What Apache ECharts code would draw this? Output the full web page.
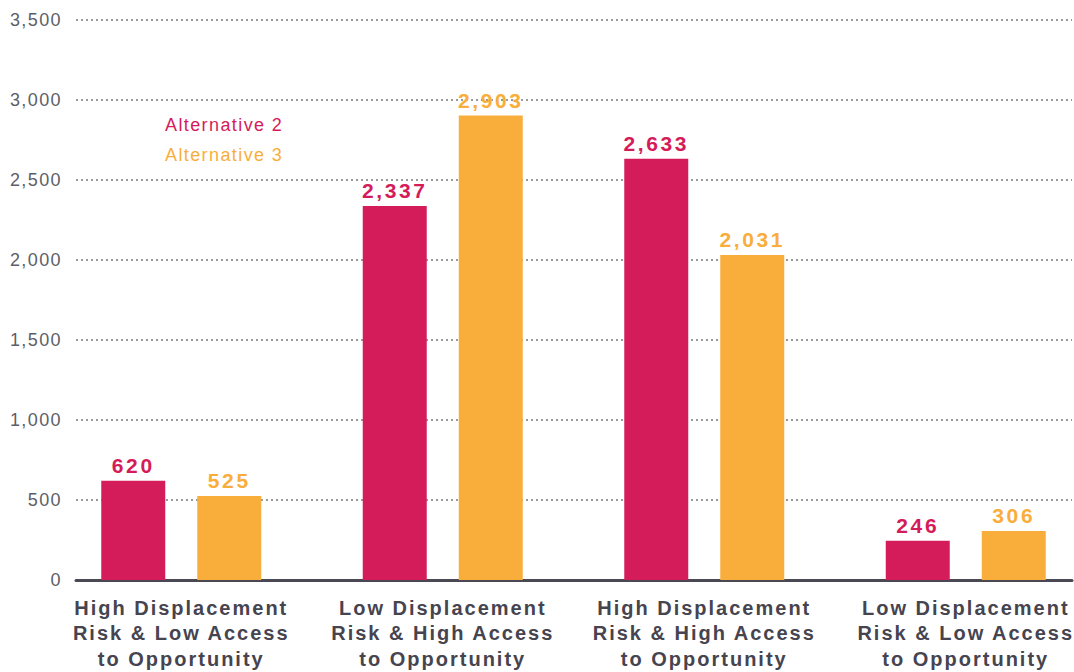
<!DOCTYPE html>
<html><head><meta charset="utf-8">
<script src="https://cdn.jsdelivr.net/npm/echarts@6/dist/echarts.min.js"></script>
<style>html,body{margin:0;padding:0;background:#fff}#c{width:1074px;height:672px}</style>
</head><body><div id="c"></div>
<script>
const categories = [
  "High Displacement\nRisk & Low Access\nto Opportunity",
  "Low Displacement\nRisk & High Access\nto Opportunity",
  "High Displacement\nRisk & High Access\nto Opportunity",
  "Low Displacement\nRisk & Low Access\nto Opportunity"
];
const seriesNames = ["Alternative 2", "Alternative 3"];
const alt2 = [620, 2337, 2633, 246];
const alt3 = [525, 2903, 2031, 306];
const yMin = 0, yMax = 3500, yStep = 500;

const RED = '#d41c5a', ORANGE = '#f9ae3b';
const FONT = '"Liberation Sans", Arial, sans-serif';
const chart = echarts.init(document.getElementById('c'), null, {renderer: 'svg'});
const fmt = v => v.toLocaleString('en-US');
chart.setOption({
  animation: false,
  textStyle: {fontFamily: FONT},
  grid: [
    {left: 50.5, width: 1046, top: 20, bottom: 92, containLabel: false, outerBoundsMode: 'none'},
    {left: 76, right: 2, top: 20, bottom: 92, containLabel: false, outerBoundsMode: 'none'}
  ],
  legend: {
    orient: 'vertical', left: 155, top: 111, itemGap: 12,
    icon: 'none', itemWidth: 0, itemHeight: 10,
    textStyle: {fontFamily: FONT, fontSize: 18},
    data: [
      {name: seriesNames[0], textStyle: {color: RED}},
      {name: seriesNames[1], textStyle: {color: ORANGE}}
    ]
  },
  xAxis: [
    {type: 'category', gridIndex: 0, data: categories,
     axisLine: {show: false}, axisTick: {show: false},
     axisLabel: {interval: 0, color: '#46444f', fontSize: 20, fontWeight: 'bold', lineHeight: 25.5, margin: 15, fontFamily: FONT}},
    {type: 'category', gridIndex: 1, data: ['a'],
     axisLine: {show: true, lineStyle: {color: '#4a4953', width: 3}}, axisTick: {show: false}, axisLabel: {show: false}}
  ],
  yAxis: [
    {type: 'value', gridIndex: 0, min: yMin, max: yMax, interval: yStep, show: false, splitLine: {show: false}},
    {type: 'value', gridIndex: 1, min: yMin, max: yMax, interval: yStep,
     axisLine: {show: false}, axisTick: {show: false},
     axisLabel: {color: '#5e5e68', fontSize: 18, margin: 14, fontFamily: FONT, formatter: v => fmt(v)},
     splitLine: {lineStyle: {color: '#9a9a9a', type: [2, 3], width: 2}}}
  ],
  series: [
    {name: seriesNames[0], type: 'bar', xAxisIndex: 0, yAxisIndex: 0, data: alt2, barWidth: 64, barGap: '50%',
     itemStyle: {color: RED},
     label: {show: true, position: 'top', distance: 5, color: RED, fontSize: 21, fontWeight: 'bold', fontFamily: FONT, formatter: p => fmt(p.value)}},
    {name: seriesNames[1], type: 'bar', xAxisIndex: 0, yAxisIndex: 0, data: alt3, barWidth: 64,
     itemStyle: {color: ORANGE},
     label: {show: true, position: 'top', distance: 5, color: ORANGE, fontSize: 21, fontWeight: 'bold', fontFamily: FONT, formatter: p => fmt(p.value)}}
  ]
});
// widen tracking of the text to match the reference typography
function track() {
  document.querySelectorAll('#c text').forEach(el => {
    const cs = getComputedStyle(el);
    const fs = parseFloat(cs.fontSize);
    const bold = parseInt(cs.fontWeight) >= 600 || cs.fontWeight === 'bold';
    let ls = 1.4;
    if (bold && fs >= 21) ls = 2.6;
    else if (bold) ls = 2;
    el.style.letterSpacing = ls + 'px';
  });
}
track();
</script></body></html>
